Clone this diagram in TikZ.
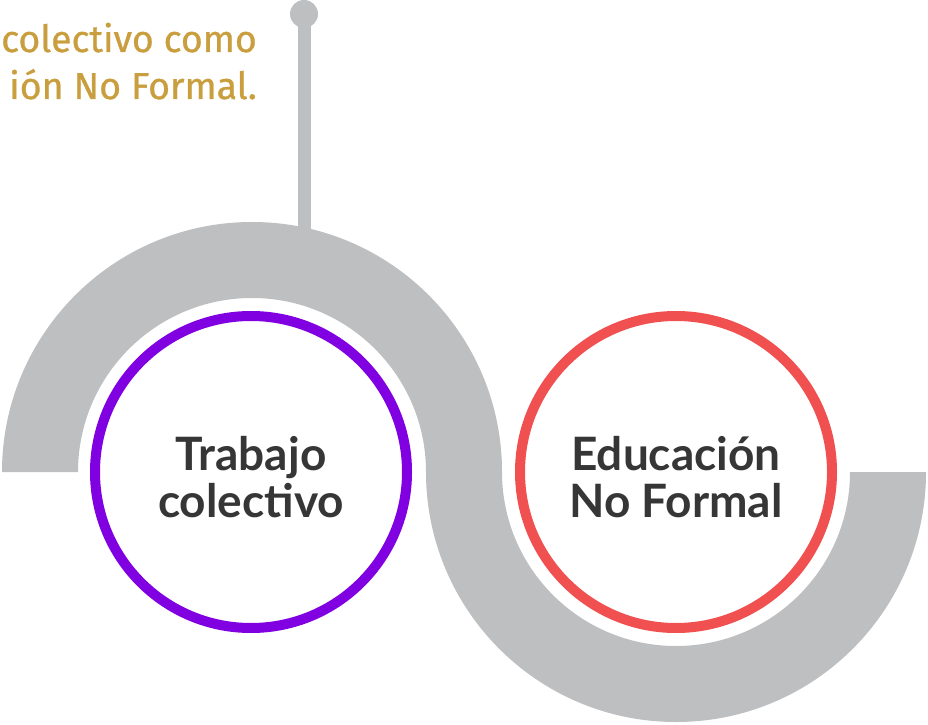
\documentclass[tikz,border=0pt]{standalone}
\usepackage{fontspec}
\setmainfont{Lato}
\newfontfamily\goldfont[FakeBold=0.8]{Fira Sans}
\definecolor{bandgray}{HTML}{BEBFC1}
\definecolor{ringpurple}{HTML}{8000E2}
\definecolor{ringred}{HTML}{F05050}
\definecolor{textdark}{HTML}{363636}
\definecolor{textgold}{HTML}{C99E3E}
\begin{document}
\begin{tikzpicture}[x=1pt,y=1pt,
  ring/.style={circle, line width=10pt, fill=white, minimum size=312pt, inner sep=0pt},
  title/.style={font=\bfseries\fontsize{46}{47}\selectfont, text=textdark, align=center},
  gold/.style={font=\goldfont\fontsize{37.5}{47}\selectfont, text=textgold, anchor=base east, inner sep=0pt}]
\useasboundingbox (0,0) rectangle (928,724);
% band
\fill[bandgray] (2,252) arc[start angle=180,end angle=0,radius=250] -- (426,252)
   arc[start angle=0,end angle=180,radius=174] -- cycle;
\fill[bandgray] (426,252) arc[start angle=180,end angle=360,radius=250] -- (850,252)
   arc[start angle=360,end angle=180,radius=174] -- cycle;
% pole
\coordinate (poletop) at (304,710);
\coordinate (polefoot) at (304,480);
\draw[bandgray, line width=13pt] (poletop) -- (polefoot);
\fill[bandgray] (poletop) circle[radius=14];
% rings
\node[ring, draw=ringpurple] (c1) at (251,252) {};
\node[ring, draw=ringred] (c2) at (676,252) {};
\node[title] (t1) at ([yshift=-5pt]c1.center) {Trabajo\\colectivo};
\node[title] (t2) at ([yshift=-5pt]c2.center) {Educación\\No Formal};
% gold text
\node[gold] (g1) at (257,672) {colectivo como};
\node[gold] (g2) at (257,625) {ión No Formal.};
\end{tikzpicture}
\end{document}
